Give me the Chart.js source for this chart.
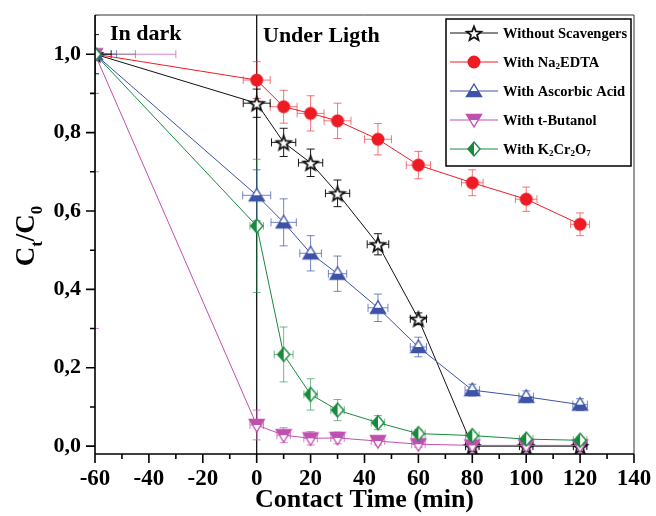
<!DOCTYPE html>
<html>
<head>
<meta charset="utf-8">
<script src="https://cdn.jsdelivr.net/npm/chart.js@4.4.0/dist/chart.umd.min.js"></script>
<style>
  body { margin: 0; background: #fff; }
</style>
</head>
<body>
<canvas id="myChart" width="656" height="516"></canvas>
<script>
// contact time (min)
let times = [-60, 0, 10, 20, 30, 45, 60, 80, 100, 120];

let noScav = [1.0, 0.875, 0.775, 0.723, 0.645, 0.515, 0.325, 0.0, 0.0, 0.0];
let noScavYErr = [0.05, 0.036, 0.036, 0.035, 0.034, 0.027, 0.015, 0.005, 0.005, 0.005];
let noScavXErr = [6, 5, 4.5, 4.5, 4.5, 4, 3, 2.5, 2.5, 2.5];

let edta = [1.0, 0.934, 0.866, 0.849, 0.830, 0.783, 0.717, 0.672, 0.630, 0.566];
let edtaYErr = [0, 0.047, 0.042, 0.045, 0.045, 0.04, 0.035, 0.033, 0.031, 0.029];
let edtaXErr = [0, 5, 5, 5, 5, 5, 4.5, 4, 4, 3.5];

let ascorbic = [1.0, 0.640, 0.571, 0.492, 0.44, 0.353, 0.253, 0.143, 0.126, 0.106];
let ascorbicYErr = [0.1, 0.065, 0.06, 0.045, 0.045, 0.035, 0.025, 0.015, 0.015, 0.015];
let ascorbicXErr = [8, 5.2, 4.7, 4, 3.4, 3.7, 3, 2.7, 2.7, 2.7];

let butanol = [1.0, 0.054, 0.028, 0.02, 0.021, 0.013, 0.005, 0.002, 0.002, 0.002];
let butanolYErr = [0.7, 0.038, 0.019, 0.017, 0.015, 0.01, 0.008, 0.005, 0.005, 0.005];
let butanolXErr = [30, 2.5, 2.5, 2.5, 2.5, 2.5, 2.5, 2.5, 2.5, 2.5];

let dichromate = [1.0, 0.562, 0.234, 0.132, 0.092, 0.060, 0.032, 0.027, 0.018, 0.015];
let dichromateYErr = [0.3, 0.17, 0.07, 0.04, 0.027, 0.018, 0.01, 0.008, 0.006, 0.006];
let dichromateXErr = [15, 2.5, 3.5, 2.5, 2.5, 2.5, 2.5, 2.5, 2.5, 2.5];

let xTicks = [-60, -40, -20, 0, 20, 40, 60, 80, 100, 120, 140];
let yTicks = [0, 0.2, 0.4, 0.6, 0.8, 1.0];

let serif = "Liberation Serif";

function pts(ys) {
  return times.map((t, i) => ({ x: t, y: ys[i] }));
}

function marker(kind, color) {
  let s = 20, c = document.createElement("canvas");
  c.width = s; c.height = s;
  let g = c.getContext("2d");
  let m = s / 2;
  g.lineWidth = kind === "star" ? 1.8 : 1.4;
  g.strokeStyle = color;
  g.fillStyle = color;
  let path = () => {
    g.beginPath();
    if (kind === "star") {
      for (let k = 0; k < 10; k++) {
        let r = k % 2 === 0 ? 7.5 : 3.2;
        let a = -Math.PI / 2 + k * Math.PI / 5;
        g.lineTo(m + r * Math.cos(a), m + 1 + r * Math.sin(a));
      }
    } else if (kind === "up") {
      g.moveTo(m, m - 7); g.lineTo(m + 7.5, m + 5.5); g.lineTo(m - 7.5, m + 5.5);
    } else if (kind === "down") {
      g.moveTo(m, m + 7); g.lineTo(m + 7.5, m - 5.5); g.lineTo(m - 7.5, m - 5.5);
    } else if (kind === "diamond") {
      g.moveTo(m, m - 7); g.lineTo(m + 6, m); g.lineTo(m, m + 7); g.lineTo(m - 6, m);
    }
    g.closePath();
  };
  if (kind === "circle") {
    g.beginPath(); g.arc(m, m, 6.5, 0, 2 * Math.PI); g.fill();
    return c;
  }
  path();
  g.fillStyle = "#fff"; g.fill();
  g.save();
  g.beginPath();
  if (kind === "up") g.rect(0, m, s, s);
  if (kind === "down") g.rect(0, 0, s, m);
  if (kind === "diamond") g.rect(0, 0, m, s);
  g.clip();
  path();
  g.fillStyle = color; g.fill();
  g.restore();
  path();
  g.stroke();
  return c;
}

let black = "#111111", red = "#ed1c24", blue = "#3c53a8", pink = "#c050b0", green = "#188a3e";

let series = [
  { label: [["Without Scavengers", 0]], color: black, err: "rgba(0,0,0,0.9)", mk: marker("star", black), ys: noScav, ye: noScavYErr, xe: noScavXErr },
  { label: [["With Na", 0], ["2", 1], ["EDTA", 0]], color: red, err: "rgba(237,28,36,0.6)", mk: marker("circle", red), ys: edta, ye: edtaYErr, xe: edtaXErr },
  { label: [["With Ascorbic Acid", 0]], color: blue, err: "rgba(60,83,168,0.7)", mk: marker("up", blue), ys: ascorbic, ye: ascorbicYErr, xe: ascorbicXErr },
  { label: [["With t-Butanol", 0]], color: pink, err: "rgba(192,80,176,0.7)", mk: marker("down", pink), ys: butanol, ye: butanolYErr, xe: butanolXErr },
  { label: [["With K", 0], ["2", 1], ["Cr", 0], ["2", 1], ["O", 0], ["7", 1]], color: green, err: "rgba(24,138,62,0.6)", mk: marker("diamond", green), ys: dichromate, ye: dichromateYErr, xe: dichromateXErr },
];

// first dataset is drawn on top, so reverse the legend order
let datasets = series.slice().reverse().map(s => ({
  data: pts(s.ys),
  borderColor: s.color,
  borderWidth: 1,
  pointStyle: s.mk,
  pointRadius: 7,
  tension: 0,
  errColor: s.err,
  yErr: s.ye,
  xErr: s.xe,
}));

function richText(ctx, parts, x, y, size) {
  let cx = x;
  parts.forEach(([t, sub]) => {
    ctx.font = "bold " + (sub ? Math.round(size * 0.62) : size) + "px \"" + serif + "\"";
    ctx.fillText(t, cx, sub ? y + size * 0.28 : y);
    cx += ctx.measureText(t).width;
  });
  return cx - x;
}

let errBars = {
  id: "errBars",
  beforeDatasetsDraw(chart) {
    let ctx = chart.ctx, xs = chart.scales.x, ys = chart.scales.y, a = chart.chartArea;
    ctx.save();
    // divider between dark and light phase
    ctx.strokeStyle = "#000";
    ctx.lineWidth = 1.2;
    let x0 = xs.getPixelForValue(0);
    ctx.beginPath(); ctx.moveTo(x0, a.top); ctx.lineTo(x0, a.bottom); ctx.stroke();

    ctx.beginPath(); ctx.rect(a.left, a.top, a.right - a.left, a.bottom - a.top); ctx.clip();
    ctx.lineWidth = 1;
    chart.data.datasets.forEach(ds => {
      ctx.strokeStyle = ds.errColor;
      ds.data.forEach((p, j) => {
        let x = xs.getPixelForValue(p.x), y = ys.getPixelForValue(p.y);
        let ye = ds.yErr[j], xe = ds.xErr[j];
        ctx.beginPath();
        if (ye > 0) {
          let y1 = ys.getPixelForValue(p.y + ye), y2 = ys.getPixelForValue(p.y - ye);
          ctx.moveTo(x, y1); ctx.lineTo(x, y2);
          ctx.moveTo(x - 4, y1); ctx.lineTo(x + 4, y1);
          ctx.moveTo(x - 4, y2); ctx.lineTo(x + 4, y2);
        }
        if (xe > 0) {
          let x1 = xs.getPixelForValue(p.x - xe), x2 = xs.getPixelForValue(p.x + xe);
          ctx.moveTo(x1, y); ctx.lineTo(x2, y);
          ctx.moveTo(x1, y - 4); ctx.lineTo(x1, y + 4);
          ctx.moveTo(x2, y - 4); ctx.lineTo(x2, y + 4);
        }
        ctx.stroke();
      });
    });
    ctx.restore();
  },
  afterDraw(chart) {
    let ctx = chart.ctx, xs = chart.scales.x, ys = chart.scales.y, a = chart.chartArea;
    ctx.save();
    // frame: thin top/right, heavier axes
    ctx.strokeStyle = "#333";
    ctx.lineWidth = 1;
    ctx.beginPath();
    ctx.moveTo(a.left, a.top); ctx.lineTo(a.right, a.top); ctx.lineTo(a.right, a.bottom);
    ctx.stroke();
    ctx.strokeStyle = "#000";
    ctx.lineWidth = 1.6;
    ctx.beginPath();
    ctx.moveTo(a.left, a.top); ctx.lineTo(a.left, a.bottom); ctx.lineTo(a.right, a.bottom);
    for (let v = -60; v <= 140; v += 10) {
      let x = xs.getPixelForValue(v);
      ctx.moveTo(x, a.bottom); ctx.lineTo(x, a.bottom + (v % 20 === 0 ? 9 : 5));
    }
    for (let k = 0; k <= 10; k++) {
      let y = ys.getPixelForValue(k / 10);
      ctx.moveTo(a.left, y); ctx.lineTo(a.left - (k % 2 === 0 ? 9 : 5), y);
    }
    ctx.stroke();

    // phase labels
    ctx.fillStyle = "#000";
    ctx.textBaseline = "alphabetic";
    ctx.font = "bold 22px \"" + serif + "\"";
    ctx.fillText("In dark", 110, 40);
    ctx.fillText("Under Ligth", 263, 42);

    // y title with subscripts
    ctx.save();
    ctx.translate(34, 236);
    ctx.rotate(-Math.PI / 2);
    let parts = [["C", 0], ["t", 1], ["/C", 0], ["0", 1]];
    let w = 0;
    parts.forEach(([t, sub]) => {
      ctx.font = "bold " + (sub ? 17 : 27) + "px \"" + serif + "\"";
      w += ctx.measureText(t).width;
    });
    richText(ctx, parts, -w / 2, 0, 27);
    ctx.restore();

    // legend
    let lx = 446, ly = 19, lw = 185, lh = 147;
    ctx.fillStyle = "#fff";
    ctx.fillRect(lx, ly, lw, lh);
    ctx.strokeStyle = "#000";
    ctx.lineWidth = 1.5;
    ctx.strokeRect(lx, ly, lw, lh);
    let rows = [33, 62, 91, 120, 149];
    series.forEach((s, i) => {
      let y = rows[i];
      ctx.strokeStyle = s.color;
      ctx.lineWidth = 1;
      ctx.beginPath(); ctx.moveTo(lx + 4, y); ctx.lineTo(lx + 52, y); ctx.stroke();
      ctx.drawImage(s.mk, lx + 28 - s.mk.width / 2, y - s.mk.height / 2);
      ctx.fillStyle = "#000";
      ctx.textBaseline = "middle";
      richText(ctx, s.label, lx + 57, y + 1, 14.5);
    });
    ctx.restore();
  }
};

let mychart = document.getElementById("myChart").getContext("2d");
let lineChart = new Chart(mychart, {
  type: "line",
  data: { datasets: datasets },
  options: {
    responsive: false,
    animation: false,
    layout: { padding: { top: 15, right: 22, left: 0, bottom: 0 } },
    plugins: { legend: { display: false }, tooltip: { enabled: false } },
    scales: {
      x: {
        type: "linear",
        min: -60,
        max: 140,
        afterBuildTicks: s => { s.ticks = xTicks.map(v => ({ value: v })); },
        afterFit: s => { s.height = 62; s.paddingLeft = 0; s.paddingRight = 0; },
        grid: { display: false, drawTicks: false },
        border: { display: false },
        ticks: { color: "#000", padding: 11, maxRotation: 0, font: { family: serif, weight: "bold", size: 23 } },
        title: { display: true, text: "Contact Time (min)", color: "#000", padding: { top: 0, bottom: 0 }, font: { family: serif, weight: "bold", size: 26 } },
      },
      y: {
        type: "linear",
        min: -0.02,
        max: 1.1,
        afterBuildTicks: s => { s.ticks = yTicks.map(v => ({ value: v })); },
        afterFit: s => { s.width = 95; s.paddingTop = 0; s.paddingBottom = 0; },
        grid: { display: false, drawTicks: false },
        border: { display: false },
        ticks: {
          color: "#000",
          padding: 14,
          font: { family: serif, weight: "bold", size: 22 },
          callback: v => v.toFixed(1).replace(".", ","),
        },
      },
    },
  },
  plugins: [errBars],
});
</script>
</body>
</html>
